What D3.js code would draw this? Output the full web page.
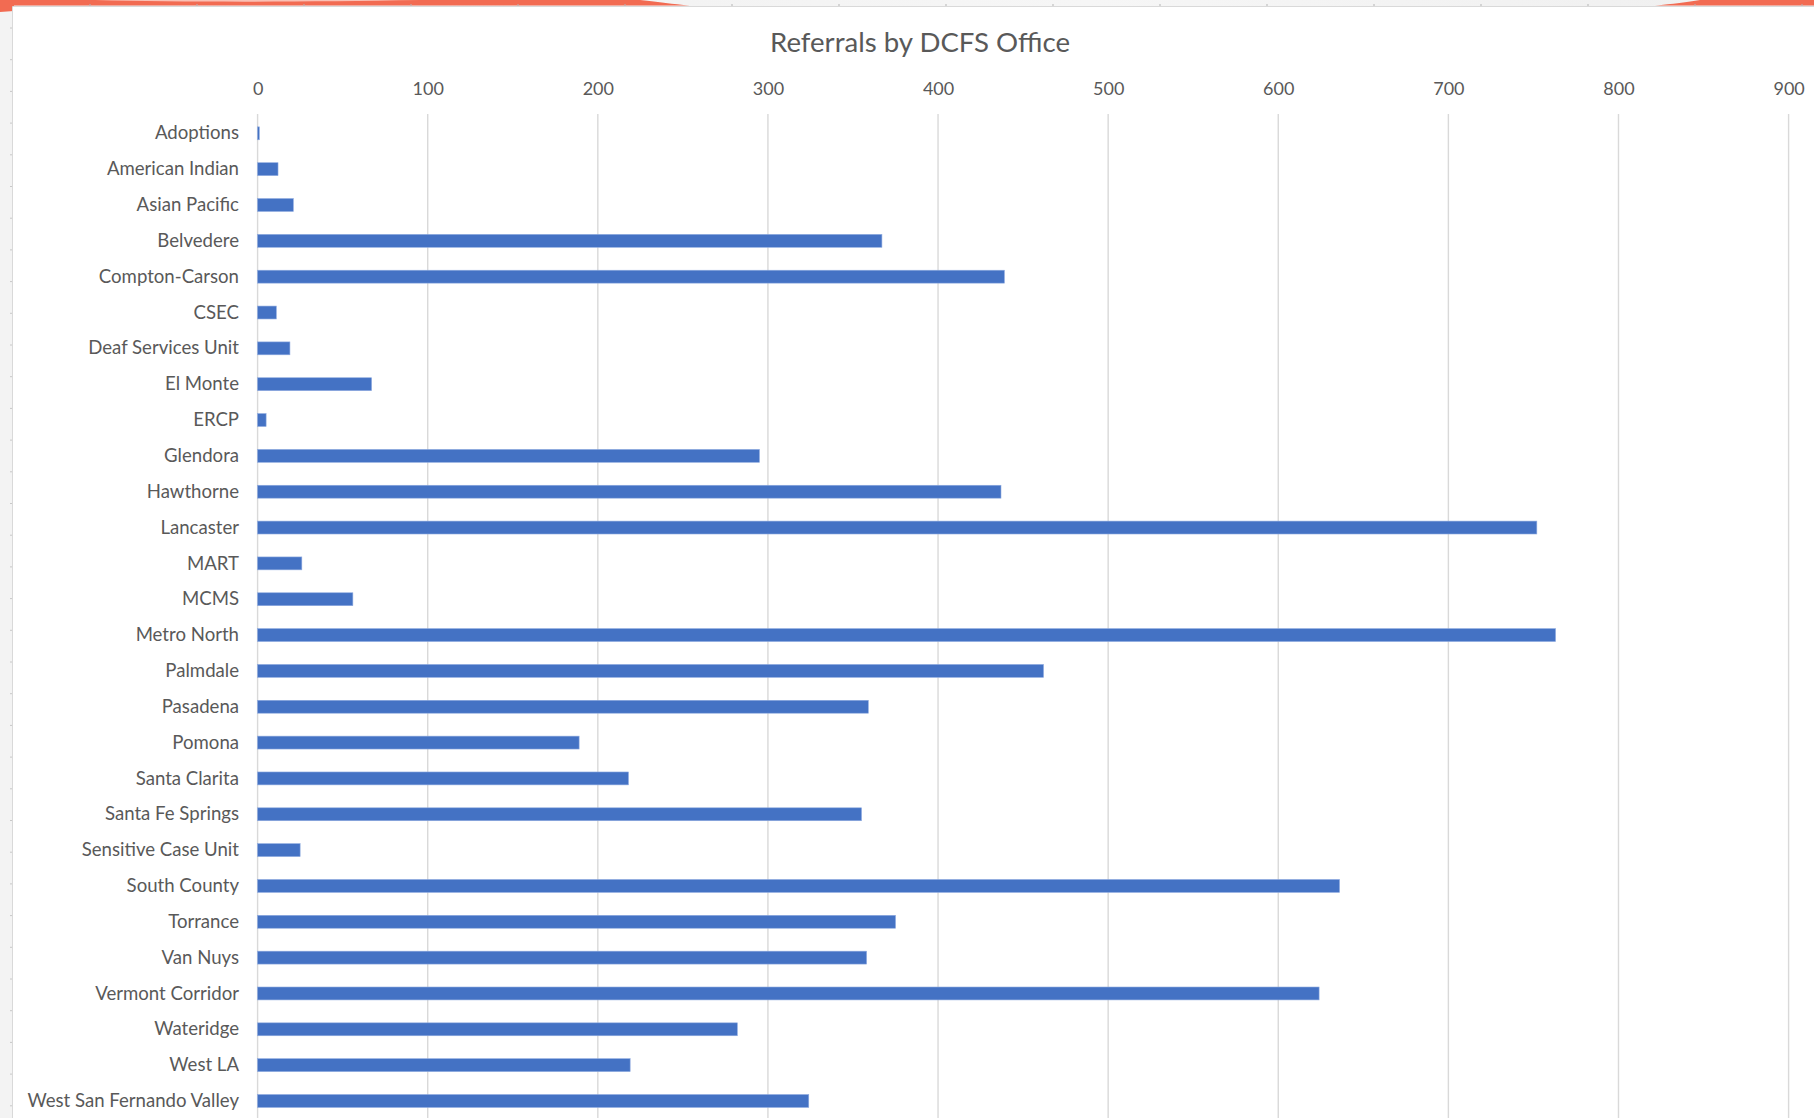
<!DOCTYPE html>
<html>
<head>
<meta charset="utf-8">
<script src="https://cdn.jsdelivr.net/npm/d3@7"></script>
<style>
  html, body { margin: 0; padding: 0; background: #f3f3f3; }
  svg { display: block; }
  text { font-family: Lato, "Open Sans", sans-serif; fill: #595959; }
</style>
</head>
<body>
<svg id="chart" width="1814" height="1118"></svg>
<script>
// ---- data ----
const chartTitle = "Referrals by DCFS Office";
const categories = [
  "Adoptions", "American Indian", "Asian Pacific", "Belvedere", "Compton-Carson",
  "CSEC", "Deaf Services Unit", "El Monte", "ERCP", "Glendora", "Hawthorne",
  "Lancaster", "MART", "MCMS", "Metro North", "Palmdale", "Pasadena", "Pomona",
  "Santa Clarita", "Santa Fe Springs", "Sensitive Case Unit", "South County",
  "Torrance", "Van Nuys", "Vermont Corridor", "Wateridge", "West LA",
  "West San Fernando Valley"
];
const referrals = [
  1, 12, 21, 367, 439,
  11, 19, 67, 5, 295, 437,
  752, 26, 56, 763, 462, 359, 189,
  218, 355, 25, 636,
  375, 358, 624, 282, 219,
  324
];
const tickValues = [0, 100, 200, 300, 400, 500, 600, 700, 800, 900];

// ---- layout ----
const W = 1814, H = 1118;
const svg = d3.select("#chart");

// slide-like surroundings
svg.append("rect").attr("x", 0).attr("y", 0).attr("width", W).attr("height", H).attr("fill", "#f3f3f3");
const defs = svg.append("defs");
const g1 = defs.append("linearGradient").attr("id", "topStrip").attr("x1", 0).attr("x2", 1);
g1.append("stop").attr("offset", "0").attr("stop-color", "#eeeeee");
g1.append("stop").attr("offset", "0.6").attr("stop-color", "#f6f6f6");
g1.append("stop").attr("offset", "1").attr("stop-color", "#efefef");
svg.append("rect").attr("x", 0).attr("y", 0).attr("width", W).attr("height", 7).attr("fill", "url(#topStrip)");
svg.append("path")
  .attr("d", "M0,0 L640,0 C660,2 672,4 690,5.5 L14,5.5 L14,11 L0,12 Z")
  .attr("fill", "#f26b52");
svg.append("path")
  .attr("d", "M95,0 C180,2.2 300,2.2 420,0 Z")
  .attr("fill", "#fbd6ce").attr("opacity", 0.8);
svg.append("path")
  .attr("d", "M1700,0 L1814,0 L1814,5.5 L1655,5.5 C1672,4 1688,2 1700,0 Z")
  .attr("fill", "#f26b52");
const topTicks = d3.range(90, W, 107);
svg.selectAll("line.rt").data(topTicks).join("line")
  .attr("x1", d => d).attr("x2", d => d).attr("y1", 4).attr("y2", 6.5)
  .attr("stroke", "#b5b5b5").attr("stroke-width", 1);
const leftTicks = d3.range(28, H, 31.7);
svg.selectAll("line.lt").data(leftTicks).join("line")
  .attr("x1", 10).attr("x2", 12.5).attr("y1", d => d).attr("y2", d => d)
  .attr("stroke", "#c8c8c8").attr("stroke-width", 1);

// white chart area
svg.append("rect").attr("x", 13).attr("y", 7).attr("width", W - 13).attr("height", H - 7)
  .attr("fill", "#ffffff");
svg.append("path").attr("d", `M12.5,${H} L12.5,6.5 L${W},6.5`)
  .attr("fill", "none").attr("stroke", "#d9d9d9").attr("stroke-width", 1);

// scales
const x = d3.scaleLinear().domain([0, 900]).range([257.6, 1788.6]);
const y = d3.scaleBand().domain(categories).range([115.4, 1118.9])
  .paddingInner(0.64).paddingOuter(0.32);

// gridlines
svg.append("g").selectAll("line").data(tickValues).join("line")
  .attr("x1", d => x(d)).attr("x2", d => x(d))
  .attr("y1", 114).attr("y2", H)
  .attr("stroke", "#d9d9d9").attr("stroke-width", 1.4);

// bars
svg.append("g").selectAll("rect").data(categories).join("rect")
  .attr("x", x(0))
  .attr("y", (d) => y(d))
  .attr("width", (d, i) => x(referrals[i]) - x(0))
  .attr("height", y.bandwidth())
  .attr("fill", "#4472c4")
  .attr("stroke", "#8eaadf").attr("stroke-width", 0.6);

// top axis labels
const xAxis = svg.append("g").attr("transform", "translate(0,95)")
  .call(d3.axisTop(x).tickValues(tickValues).tickSize(0).tickPadding(0).tickFormat(d3.format("d")));
xAxis.select(".domain").remove();
xAxis.selectAll("text").attr("font-size", 18).attr("fill", "#595959")
  .attr("font-family", "Lato, 'Open Sans', sans-serif");

// left axis labels
const yAxis = svg.append("g").attr("transform", "translate(239,0)")
  .call(d3.axisLeft(y).tickSize(0).tickPadding(0));
yAxis.select(".domain").remove();
yAxis.selectAll("text").attr("font-size", 18.6).attr("fill", "#595959").attr("dy", "0.33em")
  .attr("font-family", "Lato, 'Open Sans', sans-serif");

// title
svg.append("text").attr("x", 920).attr("y", 51.7).attr("text-anchor", "middle")
  .attr("font-size", 27.6).attr("fill", "#595959").text(chartTitle);
</script>
</body>
</html>
